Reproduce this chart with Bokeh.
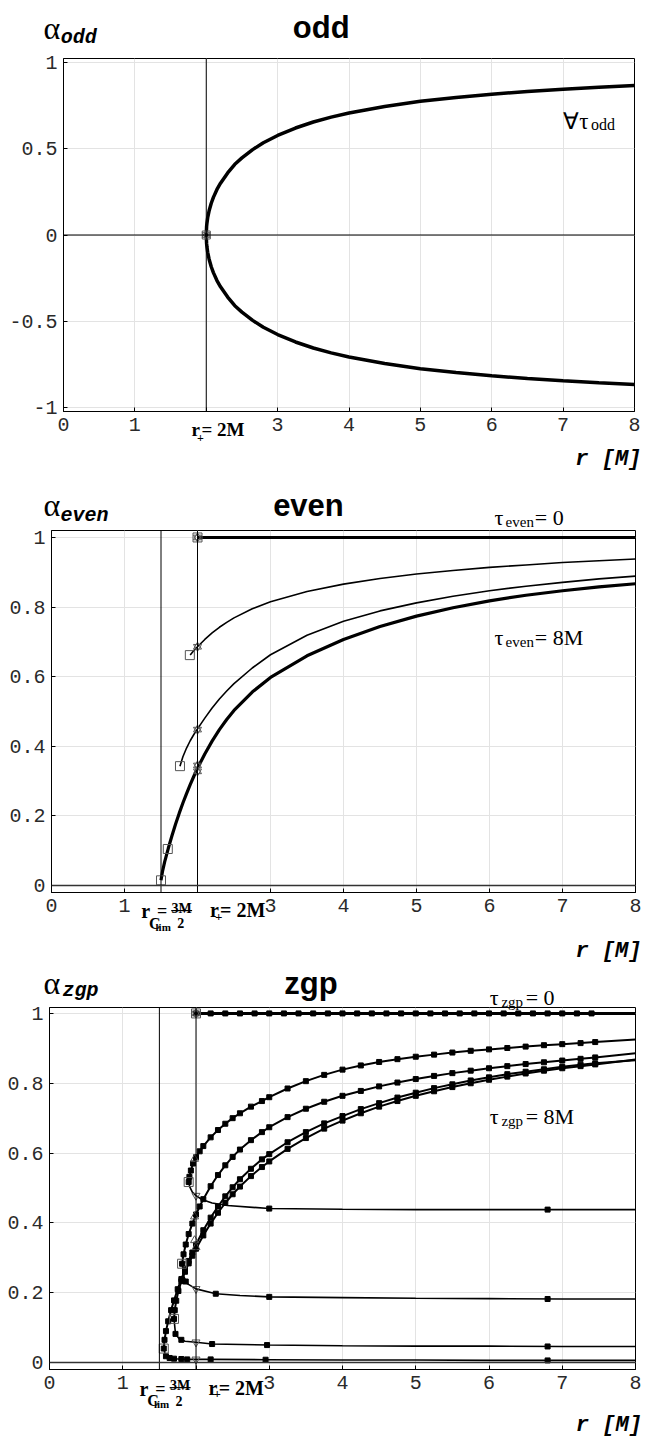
from bokeh.plotting import figure
from bokeh.layouts import column
from bokeh.models import Range1d, FixedTicker, Span
from bokeh.core.properties import value
from bokeh.embed import file_html
from bokeh.resources import INLINE

# ---------------- data ----------------
x_ticks = [0, 1, 2, 3, 4, 5, 6, 7, 8]
x_tick_labels = ["0", "1", "", "3", "4", "5", "6", "7", "8"]
r_plus = 2.0
r_clim = 1.5

# panel "odd"
odd_yticks = [-1, -0.5, 0, 0.5, 1]
odd_ytick_labels = ["-1", "-0.5", "0", "0.5", "1"]
odd_r = [2.0, 2.005, 2.01, 2.02, 2.04, 2.07, 2.1, 2.15, 2.2, 2.3, 2.4, 2.5, 2.65, 2.8,
         3.0, 3.25, 3.5, 3.75, 4.0, 4.5, 5.0, 5.5, 6.0, 6.5, 7.0, 7.5, 8.0]
odd_upper = [0.0, 0.05, 0.07, 0.10, 0.14, 0.184, 0.218, 0.264, 0.30, 0.36, 0.41, 0.447, 0.495, 0.535,
             0.577, 0.62, 0.655, 0.683, 0.707, 0.745, 0.775, 0.797, 0.816, 0.832, 0.845, 0.856, 0.866]
odd_lower = [-0.0, -0.05, -0.07, -0.10, -0.14, -0.184, -0.218, -0.264, -0.30, -0.36, -0.41, -0.447, -0.495,
             -0.535, -0.577, -0.62, -0.655, -0.683, -0.707, -0.745, -0.775, -0.797, -0.816, -0.832, -0.845,
             -0.856, -0.866]
odd_mark_r = [2.0]
odd_mark_a = [0.0]

# panel "even"
ev_yticks = [0, 0.2, 0.4, 0.6, 0.8, 1]
ev_ytick_labels = ["0", "0.2", "0.4", "0.6", "0.8", "1"]
even_top_r = [2.0, 8.0]
even_top_a = [1.0, 1.0]
even_a_r = [1.90, 1.95, 2.0, 2.1, 2.2, 2.3, 2.4, 2.5, 2.75, 3.0, 3.5, 4.0, 4.5, 5.0, 5.5, 6.0, 6.5, 7.0, 7.5, 8.0]
even_a_a = [0.662, 0.675, 0.686, 0.707, 0.726, 0.742, 0.756, 0.769, 0.795, 0.815, 0.845, 0.866, 0.882, 0.895,
            0.905, 0.914, 0.921, 0.928, 0.933, 0.938]
even_b_r = [1.76, 1.8, 1.85, 1.9, 1.95, 2.0, 2.1, 2.2, 2.3, 2.4, 2.5, 2.75, 3.0, 3.5, 4.0, 4.5, 5.0, 5.5,
            6.0, 6.5, 7.0, 7.5, 8.0]
even_b_a = [0.343, 0.37, 0.395, 0.416, 0.434, 0.45, 0.481, 0.51, 0.536, 0.559, 0.58, 0.625, 0.663, 0.719,
            0.759, 0.789, 0.812, 0.831, 0.847, 0.86, 0.871, 0.881, 0.889]
even_c_r = [1.5, 1.52, 1.55, 1.6, 1.65, 1.7, 1.75, 1.8, 1.85, 1.9, 1.95, 2.0, 2.1, 2.2, 2.3, 2.4, 2.5, 2.75,
            3.0, 3.5, 4.0, 4.5, 5.0, 5.5, 6.0, 6.5, 7.0, 7.5, 8.0]
even_c_a = [0.015, 0.04, 0.068, 0.107, 0.143, 0.177, 0.208, 0.237, 0.264, 0.29, 0.314, 0.337, 0.378, 0.415,
            0.448, 0.477, 0.503, 0.556, 0.598, 0.66, 0.707, 0.744, 0.774, 0.798, 0.818, 0.834, 0.847, 0.858,
            0.867]
even_sq_r = [1.5, 1.593, 1.76, 1.895, 2.0]
even_sq_a = [0.015, 0.105, 0.343, 0.662, 1.0]
even_tri_r = [2.0, 2.0, 2.0, 2.0, 2.0]
even_tri_a = [0.686, 0.448, 0.345, 0.328, 1.0]

# panel "zgp"
zgp_top_r = [2.0, 2.2, 2.4, 2.6, 2.8, 3.0, 3.2, 3.4, 3.6, 3.8, 4.0, 4.2, 4.4, 4.6, 4.8, 5.0, 5.2, 5.4,
             5.6, 5.8, 6.0, 6.2, 6.4, 6.6, 6.8, 7.0, 7.2, 7.4, 8.0]
zgp_top_a = [1.0, 1.0, 1.0, 1.0, 1.0, 1.0, 1.0, 1.0, 1.0, 1.0, 1.0, 1.0, 1.0, 1.0, 1.0, 1.0, 1.0, 1.0,
             1.0, 1.0, 1.0, 1.0, 1.0, 1.0, 1.0, 1.0, 1.0, 1.0, 1.0]
zgp_u1_r = [1.90, 1.91, 1.93, 1.96, 2.0, 2.05, 2.1, 2.2, 2.3, 2.4, 2.5, 2.6, 2.75, 2.9, 3.0, 3.25, 3.5,
            3.75, 4.0, 4.25, 4.5, 4.75, 5.0, 5.25, 5.5, 5.75, 6.0, 6.25, 6.5, 6.75, 7.0, 7.25, 7.45, 8.0]
zgp_u1_a = [0.517, 0.532, 0.55, 0.57, 0.588, 0.605, 0.62, 0.645, 0.666, 0.684, 0.70, 0.714, 0.733, 0.749,
            0.76, 0.785, 0.806, 0.824, 0.839, 0.851, 0.861, 0.869, 0.876, 0.882, 0.888, 0.893, 0.897, 0.901,
            0.905, 0.909, 0.912, 0.915, 0.918, 0.925]
zgp_u2_r = [1.81, 1.83, 1.86, 1.90, 1.95, 2.0, 2.05, 2.1, 2.2, 2.3, 2.4, 2.5, 2.6, 2.75, 2.9, 3.0, 3.25,
            3.5, 3.75, 4.0, 4.25, 4.5, 4.75, 5.0, 5.25, 5.5, 5.75, 6.0, 6.25, 6.5, 6.75, 7.0, 7.25, 7.45, 8.0]
zgp_u2_a = [0.283, 0.31, 0.338, 0.368, 0.398, 0.424, 0.447, 0.468, 0.505, 0.537, 0.565, 0.589, 0.61, 0.637,
            0.66, 0.674, 0.703, 0.727, 0.747, 0.764, 0.778, 0.791, 0.802, 0.812, 0.821, 0.829, 0.836, 0.843,
            0.849, 0.855, 0.86, 0.865, 0.87, 0.874, 0.886]
zgp_u3_r = [1.70, 1.71, 1.73, 1.76, 1.80, 1.85, 1.90, 1.95, 2.0, 2.1, 2.2, 2.3, 2.4, 2.5, 2.6, 2.75, 2.9,
            3.0, 3.25, 3.5, 3.75, 4.0, 4.25, 4.5, 4.75, 5.0, 5.25, 5.5, 5.75, 6.0, 6.25, 6.5, 6.75, 7.0,
            7.25, 7.45, 8.0]
zgp_u3_a = [0.125, 0.15, 0.177, 0.205, 0.233, 0.26, 0.284, 0.306, 0.326, 0.364, 0.398, 0.429, 0.457, 0.482,
            0.504, 0.534, 0.56, 0.576, 0.612, 0.643, 0.67, 0.693, 0.714, 0.733, 0.749, 0.764, 0.777, 0.789,
            0.8, 0.81, 0.819, 0.828, 0.836, 0.843, 0.849, 0.854, 0.868]
zgp_u4_r = [1.56, 1.57, 1.59, 1.62, 1.66, 1.70, 1.75, 1.80, 1.85, 1.90, 1.95, 2.0, 2.1, 2.2, 2.3, 2.4,
            2.5, 2.6, 2.75, 2.9, 3.0, 3.25, 3.5, 3.75, 4.0, 4.25, 4.5, 4.75, 5.0, 5.25, 5.5, 5.75, 6.0,
            6.25, 6.5, 6.75, 7.0, 7.25, 7.45, 8.0]
zgp_u4_a = [0.04, 0.065, 0.09, 0.118, 0.15, 0.178, 0.21, 0.239, 0.266, 0.291, 0.315, 0.338, 0.379, 0.415,
            0.447, 0.476, 0.502, 0.525, 0.555, 0.582, 0.597, 0.631, 0.66, 0.685, 0.706, 0.726, 0.743, 0.759,
            0.773, 0.786, 0.797, 0.808, 0.817, 0.826, 0.833, 0.84, 0.847, 0.853, 0.857, 0.866]
zgp_d1_r = [1.90, 1.915, 1.95, 2.0, 2.08, 2.22, 2.43, 3.0, 4.0, 5.0, 6.0, 7.0, 8.0]
zgp_d1_a = [0.517, 0.503, 0.488, 0.478, 0.467, 0.457, 0.45, 0.441, 0.439, 0.438, 0.438, 0.438, 0.438]
zgp_d2_r = [1.81, 1.836, 1.88, 2.0, 2.27, 2.6, 3.0, 4.0, 5.0, 6.0, 7.0, 8.0]
zgp_d2_a = [0.283, 0.245, 0.226, 0.211, 0.197, 0.192, 0.188, 0.186, 0.184, 0.183, 0.182, 0.182]
zgp_d3_r = [1.70, 1.72, 1.77, 1.85, 2.0, 2.22, 3.0, 4.0, 5.0, 6.0, 7.0, 8.0]
zgp_d3_a = [0.125, 0.082, 0.068, 0.061, 0.058, 0.053, 0.05, 0.048, 0.047, 0.047, 0.046, 0.046]
zgp_d4_r = [1.56, 1.585, 1.63, 1.70, 1.88, 2.2, 2.95, 4.0, 5.0, 6.0, 7.0, 8.0]
zgp_d4_a = [0.04, 0.018, 0.013, 0.011, 0.009, 0.009, 0.008, 0.007, 0.007, 0.006, 0.006, 0.006]
zgp_dmark_r = [3.0, 6.8, 1.86, 2.27, 3.0, 6.8, 1.72, 1.80, 2.22, 2.97, 6.8,
               1.59, 1.64, 1.70, 1.80, 1.88, 2.2, 2.95, 6.8]
zgp_dmark_a = [0.441, 0.438, 0.232, 0.197, 0.188, 0.182, 0.082, 0.065, 0.053, 0.05, 0.046,
               0.018, 0.013, 0.011, 0.01, 0.009, 0.009, 0.008, 0.006]
zgp_sq_r = [1.90, 1.81, 1.70, 1.56, 2.0]
zgp_sq_a = [0.517, 0.283, 0.125, 0.04, 1.0]
zgp_up_r = [1.98, 1.98, 1.98, 2.0, 2.0]
zgp_up_a = [0.583, 0.418, 0.35, 0.33, 1.0]
zgp_dn_r = [2.0, 2.0, 2.0, 2.0, 2.0]
zgp_dn_a = [0.478, 0.211, 0.058, 0.009, 1.0]

# ---------------- styling helpers ----------------
SERIF = "Liberation Serif"
MONO = "Liberation Mono"
TICKF = "Liberation Mono"
OPEN = "#555555"


def make_panel(height, yr, borders, yticks, ylabels):
    bl, br, bt, bb = borders
    p = figure(width=647, height=height, x_range=Range1d(0, 8), y_range=Range1d(*yr),
               output_backend="svg", toolbar_location=None,
               min_border_left=bl, min_border_right=br, min_border_top=bt, min_border_bottom=bb)
    if "frame_align" in p.properties():
        p.frame_align = False
    p.background_fill_color = "white"
    p.border_fill_color = "white"
    p.outline_line_color = "black"
    p.outline_line_alpha = 1.0
    p.outline_line_width = 1
    for ax, ticks, labels in ((p.xaxis[0], x_ticks, x_tick_labels), (p.yaxis[0], yticks, ylabels)):
        ax.ticker = FixedTicker(ticks=ticks)
        ax.major_label_overrides = {t: l for t, l in zip(ticks, labels)}
        ax.major_tick_in = 4
        ax.major_tick_out = 0
        ax.minor_tick_line_color = None
        ax.axis_line_color = "black"
        ax.major_tick_line_color = "black"
        ax.major_label_text_font = TICKF
        ax.major_label_text_font_size = "20px"
        ax.major_label_text_color = "#2a2a2a"
        ax.major_label_standoff = 6
    p.grid.grid_line_color = "#e3e3e3"
    p.grid.grid_line_width = 1
    return p


def lab(p, x, y, text, font=SERIF, size=20, style="normal", align="left", color="black"):
    p.text(x=[x], y=[y], text=[text], text_font=value(font), text_font_size=f"{size}px",
           text_font_style=style, text_align=align, text_baseline="alphabetic",
           text_color=color, level="overlay")


def open_marks(p, rs, As, marker, size=9):
    p.scatter(rs, As, marker=marker, size=size, fill_color=None, line_color=OPEN, line_width=1)


def axis_texts(p, sub, title, t_xy, a_xy, s_xy, rm_xy):
    lab(p, t_xy[0], t_xy[1], title, font="Liberation Sans", size=31, style="bold", align="center")
    lab(p, a_xy[0], a_xy[1], "\u03b1", font=SERIF, size=32)
    lab(p, s_xy[0], s_xy[1], sub, font=MONO, size=20, style="bold italic")
    lab(p, rm_xy[0], rm_xy[1], "r [M]", font=MONO, size=22, style="bold italic", align="right")


def rplus_label(p, x, y, dy, size):
    lab(p, x[0], y, "r", size=size, style="bold")
    lab(p, x[1], y + dy, "+", size=int(size * 0.68), style="bold")
    lab(p, x[2], y, "= 2M", size=size, style="bold")


def rclim_label(p):
    lab(p, 1.23, -0.0745, "r", size=20, style="bold")
    lab(p, 1.335, -0.109, "C", size=16, style="bold")
    lab(p, 1.425, -0.12, "lim", size=11, style="bold")
    lab(p, 1.445, -0.0745, "=", size=18, style="bold")
    lab(p, 1.783, -0.066, "3M", size=14, style="bold", align="center")
    p.segment(x0=[1.64], y0=[-0.072], x1=[1.926], y1=[-0.072], line_color="black", line_width=1.2,
              level="overlay")
    lab(p, 1.769, -0.109, "2", size=14, style="bold", align="center")


# ---------------- panel 1: odd ----------------
p1 = make_panel(472, (-1.023, 1.023), (63, 13, 58, 61), odd_yticks, odd_ytick_labels)
p1.add_layout(Span(location=r_plus, dimension="height", line_color="black", line_width=1))
p1.add_layout(Span(location=0, dimension="width", line_color="black", line_width=1))
p1.line(odd_r, odd_upper, line_color="black", line_width=3.5)
p1.line(odd_r, odd_lower, line_color="black", line_width=3.5)
open_marks(p1, odd_mark_r, odd_mark_a, "square", 8)
open_marks(p1, odd_mark_r, odd_mark_a, "triangle", 8)
open_marks(p1, odd_mark_r, odd_mark_a, "inverted_triangle", 8)
axis_texts(p1, "odd", "odd", (3.61, 1.203), (-0.28, 1.197), (-0.04, 1.145), (8.095, -1.301))
lab(p1, 7.0, 0.658, "\u2200\u03c4", size=23)
lab(p1, 7.39, 0.638, "odd", size=16)
rplus_label(p1, (1.793, 1.87, 1.933), -1.130, -0.044, 19)

# ---------------- panel 2: even ----------------
p2 = make_panel(494, (-0.02, 1.02), (51, 12, 58, 74), ev_yticks, ev_ytick_labels)
p2.add_layout(Span(location=r_clim, dimension="height", line_color="black", line_width=1))
p2.add_layout(Span(location=r_plus, dimension="height", line_color="black", line_width=1))
p2.add_layout(Span(location=0, dimension="width", line_color="#333333", line_width=1.6))
p2.line(even_top_r, even_top_a, line_color="black", line_width=3)
p2.line(even_a_r, even_a_a, line_color="black", line_width=1.6)
p2.line(even_b_r, even_b_a, line_color="black", line_width=1.6)
p2.line(even_c_r, even_c_a, line_color="black", line_width=3.2)
open_marks(p2, even_sq_r, even_sq_a, "square", 9)
open_marks(p2, even_tri_r, even_tri_a, "triangle", 8)
open_marks(p2, even_tri_r, even_tri_a, "inverted_triangle", 8)
axis_texts(p2, "even", "even", (3.52, 1.092), (-0.11, 1.092), (0.123, 1.063), (8.082, -0.19))
lab(p2, 6.07, 1.057, "\u03c4", size=22)
lab(p2, 6.22, 1.043, "even", size=15)
lab(p2, 6.62, 1.057, "= 0", size=22)
lab(p2, 6.07, 0.713, "\u03c4", size=22)
lab(p2, 6.22, 0.699, "even", size=15)
lab(p2, 6.62, 0.713, "= 8M", size=22)
rclim_label(p2)
rplus_label(p2, (2.172, 2.24, 2.309), -0.0716, -0.018, 20)

# ---------------- panel 3: zgp ----------------
p3 = make_panel(474, (-0.02, 1.017), (49, 12, 41, 71), ev_yticks, ev_ytick_labels)
p3.add_layout(Span(location=r_clim, dimension="height", line_color="black", line_width=1))
p3.add_layout(Span(location=r_plus, dimension="height", line_color="black", line_width=1))
p3.add_layout(Span(location=0, dimension="width", line_color="#333333", line_width=1.3))
p3.line(zgp_top_r, zgp_top_a, line_color="black", line_width=3)
p3.scatter(zgp_top_r[:-1], zgp_top_a[:-1], marker="square", size=5, color="black")
for rr, aa in ((zgp_u1_r, zgp_u1_a), (zgp_u2_r, zgp_u2_a), (zgp_u3_r, zgp_u3_a), (zgp_u4_r, zgp_u4_a)):
    p3.line(rr, aa, line_color="black", line_width=2)
    p3.scatter(rr[:-1], aa[:-1], marker="square", size=5, color="black")
for rr, aa in ((zgp_d1_r, zgp_d1_a), (zgp_d2_r, zgp_d2_a), (zgp_d3_r, zgp_d3_a), (zgp_d4_r, zgp_d4_a)):
    p3.line(rr, aa, line_color="black", line_width=1.6)
p3.scatter(zgp_dmark_r, zgp_dmark_a, marker="square", size=5, color="black")
open_marks(p3, zgp_sq_r, zgp_sq_a, "square", 9)
open_marks(p3, zgp_up_r, zgp_up_a, "triangle", 8)
open_marks(p3, zgp_dn_r, zgp_dn_a, "inverted_triangle", 8)
axis_texts(p3, "zgp", "zgp", (3.57, 1.085), (-0.082, 1.086), (0.178, 1.066), (8.087, -0.18))
lab(p3, 6.01, 1.046, "\u03c4", size=22)
lab(p3, 6.17, 1.034, "zgp", size=15)
lab(p3, 6.50, 1.046, "= 0", size=22)
lab(p3, 6.01, 0.705, "\u03c4", size=22)
lab(p3, 6.17, 0.693, "zgp", size=15)
lab(p3, 6.50, 0.705, "= 8M", size=22)
rclim_label(p3)
rplus_label(p3, (2.172, 2.24, 2.309), -0.0716, -0.018, 20)

layout = column(p1, p2, p3, spacing=0)
open("out.html", "w").write(file_html(layout, INLINE))
